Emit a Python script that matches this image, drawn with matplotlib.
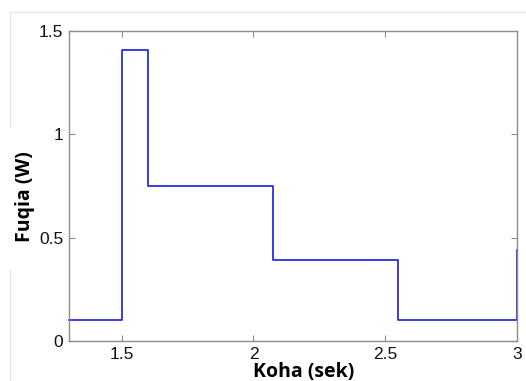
import matplotlib
matplotlib.use("Agg")
import matplotlib.pyplot as plt
from matplotlib.lines import Line2D

# Step profile of power over time
time_s = [1.30, 1.50, 1.50, 1.60, 1.60, 2.075, 2.075, 2.55, 2.55, 3.00, 3.00]
power_w = [0.10, 0.10, 1.41, 1.41, 0.75, 0.75, 0.39, 0.39, 0.10, 0.10, 0.44]

x_ticks = [1.5, 2, 2.5, 3]
x_tick_labels = ["1.5", "2", "2.5", "3"]
y_ticks = [0, 0.5, 1, 1.5]
y_tick_labels = ["0", "0.5", "1", "1.5"]

fig = plt.figure(figsize=(5.26, 3.81), dpi=100)
ax = fig.add_axes([69 / 526, 1 - 341 / 381, (517 - 69) / 526, (341 - 31) / 381])

ax.plot(time_s, power_w, color="#1a1ae6", linewidth=1.2, clip_on=False)

ax.set_xlim(1.3, 3.0)
ax.set_ylim(0, 1.5)
ax.set_xticks(x_ticks)
ax.set_xticklabels(x_tick_labels)
ax.set_yticks(y_ticks)
ax.set_yticklabels(y_tick_labels)

for s in ax.spines.values():
    s.set_color("#8c8c8c")
    s.set_linewidth(1.0)
ax.tick_params(direction="in", length=4, width=0.8, color="#8c8c8c",
               top=True, right=True, labelsize=12.5, labelcolor="#111111", pad=4)
for lab in ax.get_xticklabels() + ax.get_yticklabels():
    lab.set_fontfamily("Liberation Sans")

# faint frame lines around the figure
frame_col = "#e6e6e6"
fig.add_artist(Line2D([10 / 526, 1], [1 - 12 / 381, 1 - 12 / 381], color=frame_col, lw=1))
fig.add_artist(Line2D([10 / 526, 10 / 526], [1 - 12 / 381, 1 - 127 / 381], color=frame_col, lw=1))
fig.add_artist(Line2D([10 / 526, 10 / 526], [1 - 270 / 381, 0], color=frame_col, lw=1))

fig.text(304 / 526, 1 - 372 / 381, "Koha (sek)", ha="center", va="center",
         fontsize=14, fontweight="bold", family="Open Sans")
fig.text(25 / 526, 1 - 197 / 381, "Fuqia (W)", ha="center", va="center",
         rotation=90, fontsize=14, fontweight="bold", family="Open Sans")

fig.savefig("out.png", dpi=100)
